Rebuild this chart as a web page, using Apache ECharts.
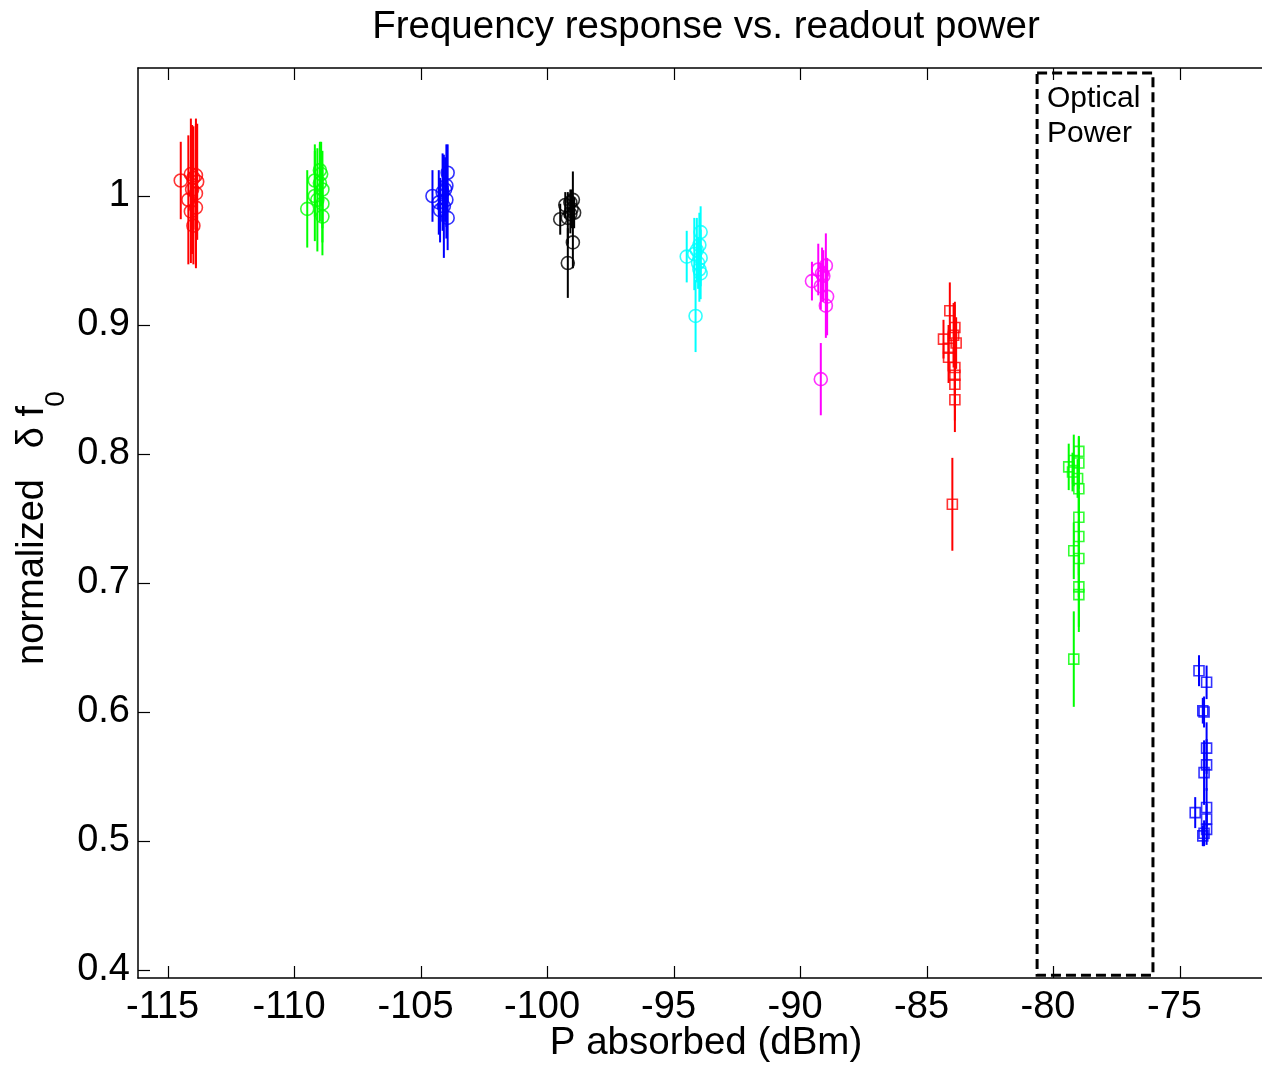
<!DOCTYPE html>
<html>
<head>
<meta charset="utf-8">
<script src="https://cdn.jsdelivr.net/npm/echarts@6/dist/echarts.min.js"></script>
<style>
  html, body { margin: 0; padding: 0; background: #fff; }
  #container { width: 1262px; height: 1065px; }
</style>
</head>
<body>
<div id="container"></div>
<script>
// each point: [P absorbed (dBm), normalized df0, error half-width]
const redCircles = [
  [-114.5, 1.012, 0.030], [-114.1, 1.017, 0.043], [-113.9, 1.016, 0.040],
  [-114.0, 1.014, 0.040], [-113.85, 1.011, 0.045], [-113.9, 1.002, 0.058],
  [-114.2, 0.997, 0.050], [-113.9, 0.991, 0.045], [-114.1, 0.988, 0.040],
  [-114.0, 0.977, 0.030], [-114.05, 1.005, 0.050]
];
const greenCircles = [
  [-109.5, 0.990, 0.030], [-109.2, 1.012, 0.028], [-109.0, 1.020, 0.022],
  [-108.95, 1.017, 0.025], [-108.9, 1.005, 0.030], [-109.1, 0.997, 0.040],
  [-108.9, 0.994, 0.030], [-108.9, 0.984, 0.030], [-109.2, 1.000, 0.035],
  [-109.0, 1.010, 0.030]
];
const blueCircles = [
  [-104.55, 1.000, 0.020], [-103.95, 1.018, 0.022], [-104.0, 1.008, 0.032],
  [-104.05, 1.005, 0.025], [-104.0, 0.997, 0.030], [-104.3, 0.995, 0.025],
  [-104.25, 0.989, 0.025], [-103.95, 0.983, 0.025], [-104.1, 0.992, 0.040],
  [-104.15, 1.003, 0.030]
];
const blackCircles = [
  [-99.5, 0.982, 0.012], [-99.3, 0.993, 0.010], [-99.0, 0.997, 0.022],
  [-99.05, 0.990, 0.015], [-99.1, 0.986, 0.015], [-98.95, 0.987, 0.012],
  [-99.2, 0.983, 0.020], [-99.0, 0.964, 0.020], [-99.2, 0.948, 0.027],
  [-99.1, 0.995, 0.010]
];
const cyanCircles = [
  [-94.5, 0.953, 0.020], [-93.95, 0.972, 0.020], [-94.0, 0.962, 0.025],
  [-94.2, 0.955, 0.028], [-93.95, 0.952, 0.022], [-94.05, 0.948, 0.020],
  [-94.0, 0.943, 0.025], [-93.95, 0.940, 0.020], [-94.1, 0.958, 0.025],
  [-94.15, 0.907, 0.028]
];
const magentaCircles = [
  [-89.55, 0.934, 0.015], [-89.3, 0.943, 0.020], [-89.0, 0.946, 0.025],
  [-89.1, 0.938, 0.020], [-89.2, 0.930, 0.018], [-88.95, 0.922, 0.030],
  [-89.0, 0.915, 0.025], [-89.15, 0.940, 0.020], [-89.2, 0.858, 0.028]
];
const redSquares = [
  [-84.1, 0.911, 0.022], [-83.9, 0.898, 0.020], [-84.35, 0.889, 0.015],
  [-83.95, 0.892, 0.025], [-83.85, 0.886, 0.020], [-84.15, 0.882, 0.018],
  [-84.15, 0.875, 0.020], [-83.9, 0.867, 0.022], [-83.9, 0.861, 0.025],
  [-83.9, 0.854, 0.028], [-83.9, 0.842, 0.025], [-84.0, 0.761, 0.036]
];
const greenSquares = [
  [-79.0, 0.802, 0.012], [-79.2, 0.795, 0.020], [-79.0, 0.793, 0.020],
  [-79.4, 0.790, 0.018], [-79.25, 0.786, 0.015], [-79.05, 0.781, 0.015],
  [-79.0, 0.773, 0.020], [-79.0, 0.751, 0.020], [-79.0, 0.736, 0.030],
  [-79.2, 0.725, 0.022], [-79.0, 0.719, 0.030], [-79.0, 0.697, 0.035],
  [-79.0, 0.691, 0.025], [-79.2, 0.641, 0.037]
];
const blueSquares = [
  [-74.25, 0.632, 0.012], [-73.95, 0.623, 0.013], [-74.1, 0.601, 0.010],
  [-74.05, 0.600, 0.012], [-73.95, 0.572, 0.020], [-73.95, 0.559, 0.020],
  [-74.05, 0.553, 0.025], [-73.95, 0.526, 0.015], [-74.4, 0.522, 0.012],
  [-73.95, 0.517, 0.012], [-73.95, 0.509, 0.012], [-74.05, 0.506, 0.010],
  [-74.1, 0.504, 0.008]
];

const xTicks = [-115, -110, -105, -100, -95, -90, -85, -80, -75];
const yTicks = [0.4, 0.5, 0.6, 0.7, 0.8, 0.9, 1];
// dashed box around the optical power data: [x0, x1, y0, y1]
const opticalBox = [-80.65, -76.07, 0.396, 1.0953];

const groups = [
  { data: redCircles, color: '#ff0000', symbol: 'circle', size: 13 },
  { data: greenCircles, color: '#00ff00', symbol: 'circle', size: 13 },
  { data: blueCircles, color: '#0000ff', symbol: 'circle', size: 13 },
  { data: blackCircles, color: '#000000', symbol: 'circle', size: 13 },
  { data: cyanCircles, color: '#00ffff', symbol: 'circle', size: 13 },
  { data: magentaCircles, color: '#ff00ff', symbol: 'circle', size: 13 },
  { data: redSquares, color: '#ff0000', symbol: 'rect', size: 10 },
  { data: greenSquares, color: '#00ff00', symbol: 'rect', size: 10 },
  { data: blueSquares, color: '#0000ff', symbol: 'rect', size: 10 }
];

var dom = document.getElementById('container');
var myChart = echarts.init(dom, null, { renderer: 'canvas' });

var font = 'Liberation Sans, Arial, sans-serif';

var series = [];
groups.forEach(function (g) {
  series.push({
    type: 'custom',
    xAxisIndex: 0,
    yAxisIndex: 0,
    data: g.data,
    encode: { x: 0, y: 1 },
    silent: true,
    renderItem: function (params, api) {
      var x = api.value(0), y = api.value(1), e = api.value(2);
      var top = api.coord([x, y + e]);
      var bot = api.coord([x, y - e]);
      return {
        type: 'line',
        shape: { x1: top[0], y1: top[1], x2: bot[0], y2: bot[1] },
        style: { stroke: g.color, lineWidth: 2 }
      };
    }
  });
  series.push({
    type: 'scatter',
    xAxisIndex: 0,
    yAxisIndex: 0,
    data: g.data.map(function (d) { return [d[0], d[1]]; }),
    symbol: g.symbol,
    symbolSize: g.size,
    silent: true,
    itemStyle: { color: 'rgba(0,0,0,0)', borderColor: g.color, borderWidth: 1.6 }
  });
});

// dashed box around the optical power points
series.push({
  type: 'scatter',
  data: [],
  silent: true,
  markArea: {
    silent: true,
    itemStyle: {
      color: 'rgba(0,0,0,0)',
      borderColor: '#000',
      borderWidth: 3,
      borderType: [10, 5]
    },
    label: { show: false },
    data: [[
      { coord: [opticalBox[0], opticalBox[3]] },
      { coord: [opticalBox[1], opticalBox[2]] }
    ]]
  }
});

var option = {
  animation: false,
  backgroundColor: '#fff',
  grid: { left: 138, right: 0, top: 68, bottom: 87, outerBoundsMode: 'none', containLabel: false },
  xAxis: [
    {
      type: 'value',
      min: -116.19,
      max: -71.76,
      position: 'bottom',
      name: 'P absorbed (dBm)',
      nameLocation: 'middle',
      nameGap: 46,
      nameMoveOverlap: false,
      nameTextStyle: { fontFamily: font, fontSize: 38.5, color: '#000', padding: [0, 0, 0, 12] },
      axisLine: { show: true, lineStyle: { color: '#000', width: 1.5 } },
      axisTick: { show: true, inside: true, length: 12, customValues: xTicks, lineStyle: { color: '#000', width: 1.2 } },
      axisLabel: { customValues: xTicks, fontFamily: font, fontSize: 38, color: '#000', margin: 11, padding: [0, 11, 0, 0] },
      splitLine: { show: false }
    },
    {
      type: 'value',
      min: -116.19,
      max: -71.76,
      position: 'top',
      axisLine: { show: true, lineStyle: { color: '#000', width: 1.5 } },
      axisTick: { show: true, inside: true, length: 12, customValues: xTicks, lineStyle: { color: '#000', width: 1.2 } },
      axisLabel: { show: false },
      splitLine: { show: false }
    }
  ],
  yAxis: [
    {
      type: 'value',
      min: 0.3938,
      max: 1.0992,
      axisLine: { show: true, lineStyle: { color: '#000', width: 1.5 } },
      axisTick: { show: true, inside: true, length: 12, customValues: yTicks, lineStyle: { color: '#000', width: 1.2 } },
      axisLabel: { customValues: yTicks, fontFamily: font, fontSize: 38, color: '#000', margin: 8 },
      splitLine: { show: false }
    }
  ],
  graphic: [
    {
      type: 'text',
      x: 706,
      y: 27,
      style: {
        text: 'Frequency response vs. readout power',
        font: '38.5px Liberation Sans, Arial, sans-serif',
        fill: '#000',
        align: 'center',
        verticalAlign: 'middle'
      }
    },
    {
      type: 'text',
      x: 1047,
      y: 81,
      style: {
        text: 'Optical\nPower',
        font: '30px Liberation Sans, Arial, sans-serif',
        lineHeight: 35,
        fill: '#000',
        align: 'left',
        verticalAlign: 'top'
      }
    },
    {
      type: 'text',
      x: 33,
      y: 572,
      rotation: Math.PI / 2,
      style: {
        text: 'normalized',
        font: '38px Liberation Sans, Arial, sans-serif',
        fill: '#000',
        align: 'center',
        verticalAlign: 'middle'
      }
    },
    {
      type: 'text',
      x: 33,
      y: 427,
      rotation: Math.PI / 2,
      style: {
        text: '\u03b4 f',
        font: '38px Liberation Sans, Arial, sans-serif',
        fill: '#000',
        align: 'center',
        verticalAlign: 'middle'
      }
    },
    {
      type: 'text',
      x: 56,
      y: 399,
      rotation: Math.PI / 2,
      style: {
        text: '0',
        font: '28px Liberation Sans, Arial, sans-serif',
        fill: '#000',
        align: 'center',
        verticalAlign: 'middle'
      }
    }
  ],
  series: series
};

myChart.setOption(option);
window.addEventListener('resize', myChart.resize);
</script>
</body>
</html>
